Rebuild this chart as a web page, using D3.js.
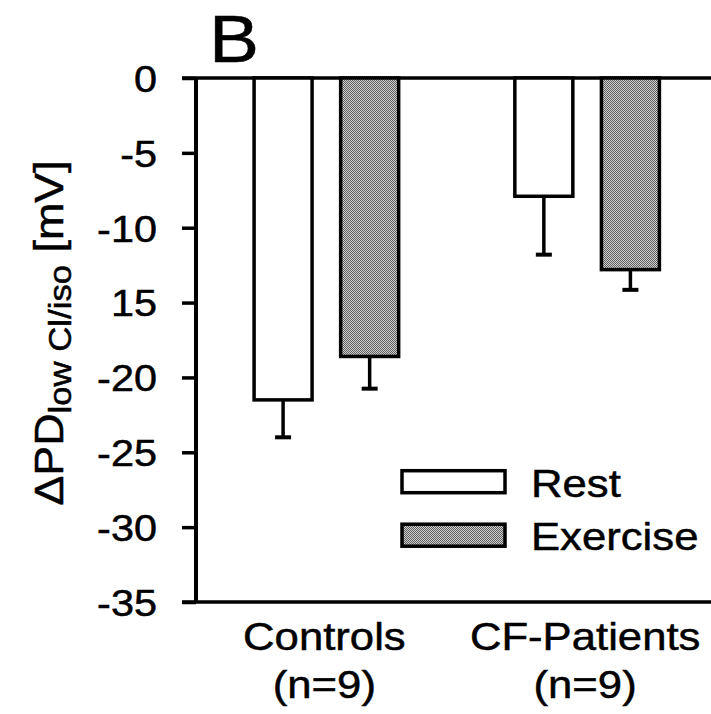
<!DOCTYPE html>
<html>
<head>
<meta charset="utf-8">
<script src="https://cdn.jsdelivr.net/npm/d3@7"></script>
<style>
  html, body { margin: 0; padding: 0; background: #fff; }
  svg { display: block; }
  text { font-family: "Liberation Sans", Arial, Helvetica, sans-serif; fill: #000; stroke: #000; stroke-width: 0.5px; }
</style>
</head>
<body>
<svg id="chart" width="711" height="714"></svg>
<script>
// ---- data ----
const groups = ["Controls", "CF-Patients"];
const groupSizes = ["(n=9)", "(n=9)"];
const seriesNames = ["Rest", "Exercise"];
const restValues = [-21.5, -7.9];
const restErrors = [2.5, 3.9];
const exerciseValues = [-18.6, -12.8];
const exerciseErrors = [2.15, 1.35];
const yTicks = [0, -5, -10, -15, -20, -25, -30, -35];
const yTickLabels = ["0", "-5", "-10", "15", "-20", "-25", "-30", "-35"];
const panelLabel = "B";

const rows = [];
groups.forEach((g, i) => {
  rows.push({ group: g, series: "Rest", value: restValues[i], err: restErrors[i] });
  rows.push({ group: g, series: "Exercise", value: exerciseValues[i], err: exerciseErrors[i] });
});

// ---- layout ----
const SX = 1.12; // horizontal text stretch
const svg = d3.select("#chart");
const plotLeft = 196, plotRight = 717.5, plotTop = 78, plotBottom = 602;

const defs = svg.append("defs");
const pat = defs.append("pattern").attr("id", "dither")
  .attr("patternUnits", "userSpaceOnUse").attr("width", 2).attr("height", 2);
pat.append("rect").attr("width", 2).attr("height", 2).attr("fill", "#cfcfcf");
pat.append("rect").attr("x", 0).attr("y", 0).attr("width", 1).attr("height", 1).attr("fill", "#5e5e5e");
pat.append("rect").attr("x", 1).attr("y", 1).attr("width", 1).attr("height", 1).attr("fill", "#5e5e5e");

const fills = { Rest: "#ffffff", Exercise: "url(#dither)" };

const y = d3.scaleLinear().domain([-35, 0]).range([plotBottom, plotTop]);
const x0 = d3.scaleBand().domain(groups).range([plotLeft, plotRight]).paddingInner(0.34).paddingOuter(0.17);
const x1 = d3.scaleBand().domain(seriesNames).range([0, x0.bandwidth()]).paddingInner(0.33).paddingOuter(0.159);

function stretchText(sel, x, yy, size, anchor) {
  return sel.attr("transform", `translate(${x},${yy}) scale(${SX},1)`)
    .attr("font-size", size).attr("text-anchor", anchor || "start");
}

// horizontal lines at 0 and -35 spanning to the right edge
[0, -35].forEach(v => {
  svg.append("line")
    .attr("x1", plotLeft - 14).attr("x2", 711)
    .attr("y1", y(v)).attr("y2", y(v))
    .attr("stroke", "#000").attr("stroke-width", 3.5);
});

// y axis
const yAxis = d3.axisLeft(y).tickValues(yTicks).tickSize(14)
  .tickFormat((d, i) => yTickLabels[i]);
const gy = svg.append("g").attr("transform", `translate(${plotLeft},0)`).call(yAxis);
gy.select(".domain").attr("stroke", "#000").attr("stroke-width", 4)
  .attr("d", `M0,${plotTop}V${plotBottom}`);
gy.selectAll(".tick line").attr("stroke", "#000").attr("stroke-width", 3.5);
gy.selectAll(".tick text")
  .attr("x", null).attr("dy", "0.36em")
  .attr("transform", `translate(-39,0) scale(${SX},1)`)
  .attr("font-size", 37).attr("text-anchor", "end")
  .attr("font-family", "'Liberation Sans', Arial, sans-serif");

// bars
const bars = svg.append("g");
bars.selectAll("rect").data(rows).join("rect")
  .attr("x", d => x0(d.group) + x1(d.series))
  .attr("y", d => y(0))
  .attr("width", x1.bandwidth())
  .attr("height", d => y(d.value) - y(0))
  .attr("fill", d => fills[d.series])
  .attr("stroke", "#000").attr("stroke-width", 3.5);

// error bars (downward only)
const eb = svg.append("g").attr("stroke", "#000").attr("stroke-width", 3.5);
rows.forEach(d => {
  const cx = x0(d.group) + x1(d.series) + x1.bandwidth() / 2;
  eb.append("line").attr("x1", cx).attr("x2", cx)
    .attr("y1", y(d.value)).attr("y2", y(d.value - d.err));
  eb.append("line").attr("x1", cx - 8).attr("x2", cx + 8)
    .attr("y1", y(d.value - d.err)).attr("y2", y(d.value - d.err))
    .attr("stroke-width", 4);
});

// category labels
groups.forEach((g, i) => {
  const cx = x0(g) + x0.bandwidth() / 2;
  stretchText(svg.append("text").text(g), cx - 2, 650, 39, "middle");
  stretchText(svg.append("text").text(groupSizes[i]), cx - 2, 698, 39, "middle");
});

// legend
const legend = svg.append("g");
seriesNames.forEach((s, i) => {
  const ly = 470.7 + i * 53.5;
  legend.append("rect").attr("x", 402).attr("y", ly).attr("width", 103).attr("height", 22)
    .attr("fill", fills[s]).attr("stroke", "#000").attr("stroke-width", 3.5);
  stretchText(legend.append("text").text(s), 531, ly + 26, 39, "start");
});

// panel label
stretchText(svg.append("text").text(panelLabel), 234, 62, 67, "middle");

// y axis title
const yt = svg.append("text")
  .attr("transform", `translate(63,333) rotate(-90) scale(${SX},1)`)
  .attr("text-anchor", "middle").attr("font-size", 40);
yt.append("tspan").text("\u0394PD");
yt.append("tspan").attr("font-size", 31).attr("dy", 8).text("low Cl/iso");
yt.append("tspan").attr("dy", -8).text(" [mV]");
</script>
</body>
</html>
